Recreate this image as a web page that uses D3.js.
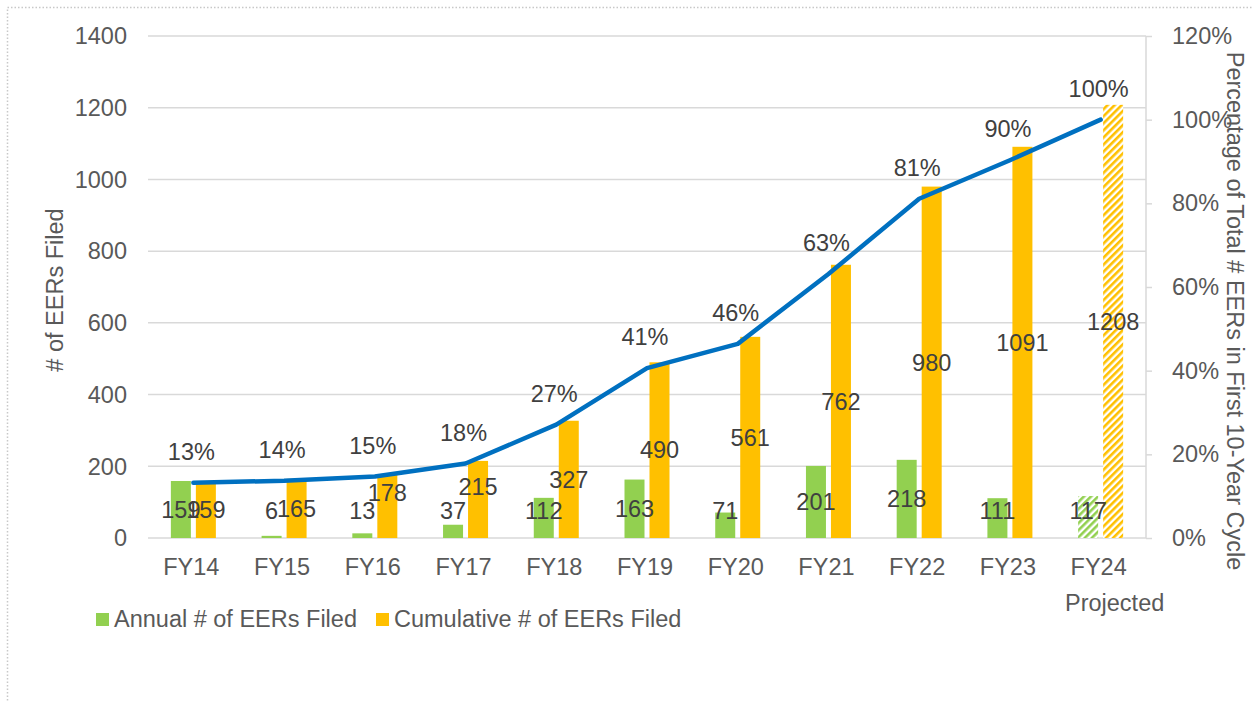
<!DOCTYPE html>
<html>
<head>
<meta charset="utf-8">
<script src="https://cdn.jsdelivr.net/npm/d3@7"></script>
<style>
  html, body { margin: 0; padding: 0; background: #fff; }
  svg { display: block; font-family: "Liberation Sans", Arial, sans-serif; }
</style>
</head>
<body>
<svg id="chart" width="1252" height="702"></svg>
<script>
// ---- data ----
const categories = ["FY14","FY15","FY16","FY17","FY18","FY19","FY20","FY21","FY22","FY23","FY24"];
const annual = [159, 6, 13, 37, 112, 163, 71, 201, 218, 111, 117];
const cumulative = [159, 165, 178, 215, 327, 490, 561, 762, 980, 1091, 1208];
const percentOfTotal = [0.132, 0.137, 0.147, 0.178, 0.271, 0.406, 0.464, 0.631, 0.811, 0.903, 1.0];
const percentLabels = ["13%","14%","15%","18%","27%","41%","46%","63%","81%","90%","100%"];
const projected = [false, false, false, false, false, false, false, false, false, false, true];
const leftTicks = [0, 200, 400, 600, 800, 1000, 1200, 1400];
const rightTicks = [0, 0.2, 0.4, 0.6, 0.8, 1.0, 1.2];
const seriesNames = ["Annual # of EERs Filed", "Cumulative # of EERs Filed"];
const leftTitle = "# of EERs Filed";
const rightTitle = "Percentage of Total # EERs in First 10-Year Cycle";
const projectedNote = "Projected";

// ---- layout ----
const svg = d3.select("#chart");
const L = 148, R = 1146, T = 36, B = 538;
const FS = 23.5;
const green = "#92D050", orange = "#FFC000", blue = "#0070C0";
const gridC = "#D9D9D9", tickC = "#595959", labelC = "#404040";

// hatch patterns
const defs = svg.append("defs");
function hatch(id, color) {
  const p = defs.append("pattern").attr("id", id).attr("patternUnits", "userSpaceOnUse")
    .attr("width", 5).attr("height", 5).attr("patternTransform", "rotate(45)");
  p.append("rect").attr("width", 5).attr("height", 5).attr("fill", "#fff");
  p.append("rect").attr("x", 0).attr("width", 2.6).attr("height", 5).attr("fill", color);
}
hatch("hatchGreen", green);
hatch("hatchOrange", orange);

// dotted frame
svg.append("rect").attr("x", 7.5).attr("y", 7.5).attr("width", 1300).attr("height", 800)
  .attr("fill", "none").attr("stroke", "#C8C8C8").attr("stroke-width", 1.5).attr("stroke-dasharray", "1.5,2");

const x0 = d3.scaleBand().domain(categories).range([L, R]).padding(0);
const bw = x0.bandwidth();
const x1 = d3.scaleBand().domain(["annual", "cumulative"]).range([bw / 2 - 22.5, bw / 2 + 22.5]).paddingInner(0.2);
const y = d3.scaleLinear().domain([0, 1400]).range([B, T]);
const y2 = d3.scaleLinear().domain([0, 1.2]).range([B, T]);

// gridlines
svg.append("g").selectAll("line").data(leftTicks).join("line")
  .attr("x1", L).attr("x2", R).attr("y1", d => y(d)).attr("y2", d => y(d))
  .attr("stroke", gridC).attr("stroke-width", 1.5);

// left tick labels
svg.append("g").selectAll("text").data(leftTicks).join("text")
  .attr("x", 127).attr("y", d => y(d)).attr("dy", "0.35em").attr("text-anchor", "end")
  .attr("fill", tickC).attr("font-size", FS).text(d => d);

// right axis
const rAxis = svg.append("g").attr("transform", `translate(${R},0)`)
  .call(d3.axisRight(y2).tickValues(rightTicks).tickSize(6).tickPadding(20).tickFormat(d3.format(".0%")));
rAxis.select(".domain").attr("stroke", gridC).attr("stroke-width", 1.5).attr("d", `M0,${T}V${B}`);
rAxis.selectAll(".tick line").attr("stroke", gridC).attr("stroke-width", 1.5);
rAxis.selectAll(".tick text").attr("fill", tickC).attr("font-size", FS)
  .attr("font-family", "Liberation Sans, Arial, sans-serif");

// bars
const groups = svg.append("g").selectAll("g").data(categories).join("g")
  .attr("transform", d => `translate(${x0(d)},0)`);
groups.append("rect")
  .attr("x", x1("annual")).attr("width", x1.bandwidth())
  .attr("y", (d, i) => y(annual[i])).attr("height", (d, i) => B - y(annual[i]))
  .attr("fill", (d, i) => projected[i] ? "url(#hatchGreen)" : green);
groups.append("rect")
  .attr("x", x1("cumulative")).attr("width", x1.bandwidth())
  .attr("y", (d, i) => y(cumulative[i])).attr("height", (d, i) => B - y(cumulative[i]))
  .attr("fill", (d, i) => projected[i] ? "url(#hatchOrange)" : orange);

// line
const cx = d => x0(d) + bw / 2;
const line = d3.line().x((d, i) => cx(categories[i])).y(d => y2(d));
svg.append("path").datum(percentOfTotal).attr("d", line)
  .attr("fill", "none").attr("stroke", blue).attr("stroke-width", 4.5).attr("stroke-linejoin", "round").attr("stroke-linecap", "round");

// bar labels
groups.append("text")
  .attr("x", x1("annual") + x1.bandwidth() / 2)
  .attr("y", (d, i) => Math.min((y(annual[i]) + B) / 2, B - 27))
  .attr("dy", "0.35em").attr("text-anchor", "middle").attr("fill", labelC).attr("font-size", FS)
  .text((d, i) => annual[i]);
groups.append("text")
  .attr("x", x1("cumulative") + x1.bandwidth() / 2)
  .attr("y", (d, i) => {
    const c = (y(cumulative[i]) + B) / 2;
    return (i === 2 || i === 3) ? c - 13 : c;
  })
  .attr("dy", "0.35em").attr("text-anchor", "middle").attr("fill", labelC).attr("font-size", FS)
  .text((d, i) => cumulative[i]);

// percentage labels
svg.append("g").selectAll("text").data(percentOfTotal).join("text")
  .attr("x", (d, i) => cx(categories[i]) - 2).attr("y", d => y2(d) - 31)
  .attr("dy", "0.35em").attr("text-anchor", "middle").attr("fill", labelC).attr("font-size", FS)
  .text((d, i) => percentLabels[i]);

// x labels
svg.append("g").selectAll("text").data(categories).join("text")
  .attr("x", d => cx(d) - 2).attr("y", 575).attr("text-anchor", "middle")
  .attr("fill", tickC).attr("font-size", FS).text(d => d);
svg.append("text").attr("x", 1065).attr("y", 611).attr("fill", tickC).attr("font-size", FS).text(projectedNote);

// axis titles
svg.append("text").attr("transform", "translate(63,290) rotate(-90)").attr("text-anchor", "middle")
  .attr("fill", tickC).attr("font-size", FS).text(leftTitle);
svg.append("text").attr("transform", "translate(1227,311) rotate(90)").attr("text-anchor", "middle")
  .attr("fill", tickC).attr("font-size", FS).text(rightTitle);

// legend
const legend = svg.append("g");
const legX = [96, 376];
[green, orange].forEach((c, i) => {
  legend.append("rect").attr("x", legX[i]).attr("y", 613).attr("width", 13).attr("height", 13).attr("fill", c);
  legend.append("text").attr("x", legX[i] + 18).attr("y", 627).attr("fill", tickC).attr("font-size", FS).text(seriesNames[i]);
});
</script>
</body>
</html>
